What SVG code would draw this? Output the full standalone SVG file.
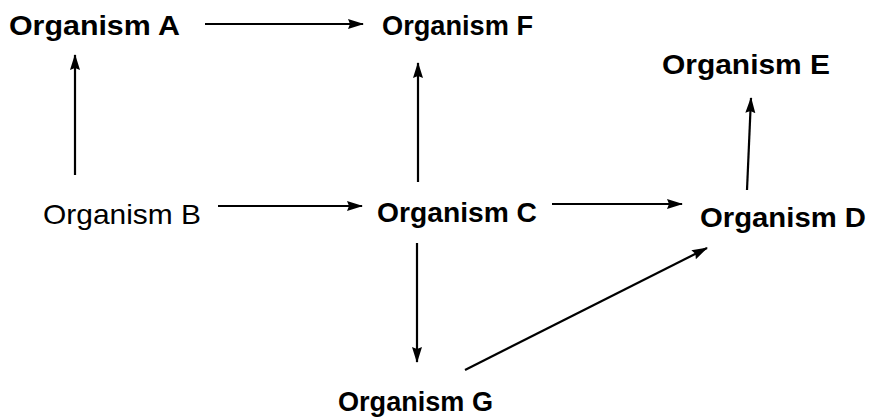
<svg xmlns="http://www.w3.org/2000/svg" width="869" height="420" viewBox="0 0 869 420">
<style>
text{font-family:"Liberation Sans",Arial,sans-serif;font-size:28px;fill:#000}
.b{font-weight:bold}
.c line{stroke:#000;stroke-width:2.2;fill:none}
</style>
<defs>
<marker id="ah" markerWidth="16" markerHeight="12" refX="15" refY="6" orient="auto" markerUnits="userSpaceOnUse">
<path d="M0,1 L16,6 L0,11 L2,6 Z" fill="#000"/>
</marker>
</defs>
<rect width="869" height="420" fill="#fff"/>
<g id="nodeA"><text class="b" x="9" y="35" textLength="171" lengthAdjust="spacingAndGlyphs">Organism A</text></g>
<g id="nodeF"><text class="b" x="382" y="35" textLength="151" lengthAdjust="spacingAndGlyphs">Organism F</text></g>
<g id="nodeE"><text class="b" x="662" y="74" textLength="168" lengthAdjust="spacingAndGlyphs">Organism E</text></g>
<g id="nodeB"><text x="43" y="224" textLength="158" lengthAdjust="spacingAndGlyphs">Organism B</text></g>
<g id="nodeC"><text class="b" x="377" y="222" textLength="160" lengthAdjust="spacingAndGlyphs">Organism C</text></g>
<g id="nodeD"><text class="b" x="700" y="227" textLength="166" lengthAdjust="spacingAndGlyphs">Organism D</text></g>
<g id="nodeG"><text class="b" x="338" y="411" textLength="155" lengthAdjust="spacingAndGlyphs">Organism G</text></g>
<g class="c" id="connectors">
<line x1="205" y1="24" x2="363" y2="24" marker-end="url(#ah)"/>
<line x1="75" y1="175" x2="75" y2="55" marker-end="url(#ah)"/>
<line x1="418" y1="182" x2="418" y2="63" marker-end="url(#ah)"/>
<line x1="218" y1="206" x2="362" y2="206" marker-end="url(#ah)"/>
<line x1="552" y1="204" x2="682" y2="204" marker-end="url(#ah)"/>
<line x1="417" y1="243" x2="417" y2="362" marker-end="url(#ah)"/>
<line x1="465" y1="370" x2="707" y2="248" marker-end="url(#ah)"/>
<line x1="747" y1="190" x2="751" y2="98" marker-end="url(#ah)"/>
</g>
</svg>
